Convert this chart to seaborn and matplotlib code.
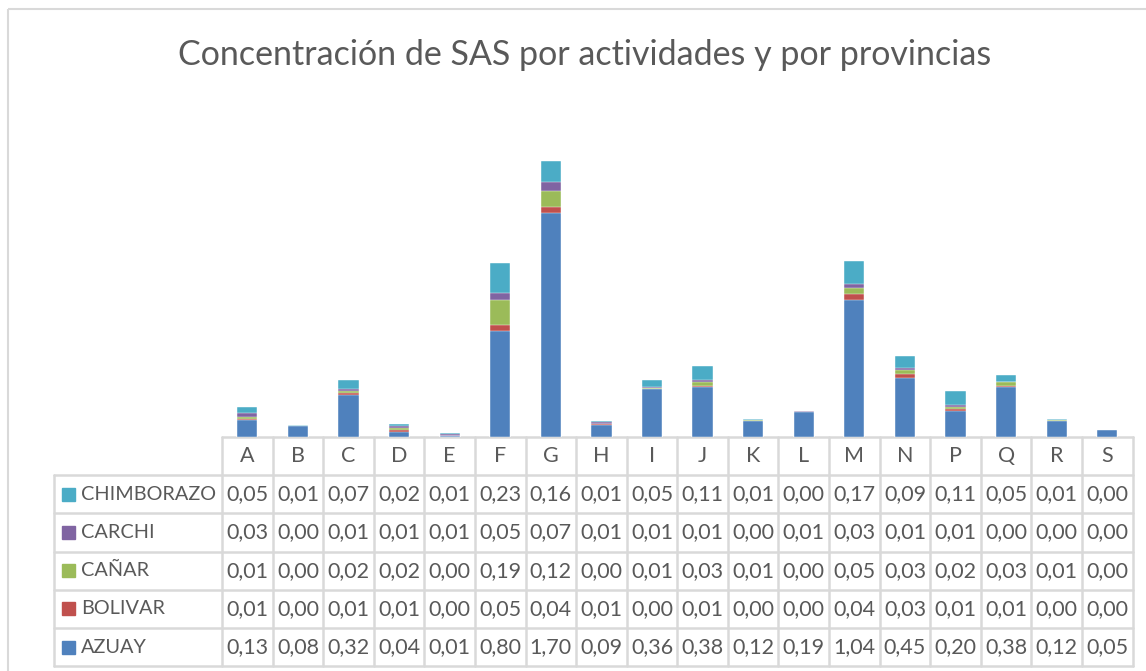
import matplotlib
matplotlib.use("Agg")
import matplotlib.pyplot as plt
import seaborn as sns
import numpy as np
import pandas as pd

categories = ["A", "B", "C", "D", "E", "F", "G", "H", "I", "J", "K", "L", "M", "N", "P", "Q", "R", "S"]
azuay = [0.13, 0.08, 0.32, 0.04, 0.01, 0.80, 1.70, 0.09, 0.36, 0.38, 0.12, 0.19, 1.04, 0.45, 0.20, 0.38, 0.12, 0.05]
bolivar = [0.01, 0.00, 0.01, 0.01, 0.00, 0.05, 0.04, 0.01, 0.00, 0.01, 0.00, 0.00, 0.04, 0.03, 0.01, 0.01, 0.00, 0.00]
canar = [0.01, 0.00, 0.02, 0.02, 0.00, 0.19, 0.12, 0.00, 0.01, 0.03, 0.01, 0.00, 0.05, 0.03, 0.02, 0.03, 0.01, 0.00]
carchi = [0.03, 0.00, 0.01, 0.01, 0.01, 0.05, 0.07, 0.01, 0.01, 0.01, 0.00, 0.01, 0.03, 0.01, 0.01, 0.00, 0.00, 0.00]
chimborazo = [0.05, 0.01, 0.07, 0.02, 0.01, 0.23, 0.16, 0.01, 0.05, 0.11, 0.01, 0.00, 0.17, 0.09, 0.11, 0.05, 0.01, 0.00]

series_names = ["AZUAY", "BOLIVAR", "CAÑAR", "CARCHI", "CHIMBORAZO"]
series_values = [azuay, bolivar, canar, carchi, chimborazo]
series_colors = ["#4F81BD", "#C0504D", "#9BBB59", "#8064A2", "#4BACC6"]

title = "Concentración de SAS por actividades y por provincias"

sns.set_style("white")
plt.rcParams["font.family"] = ["Lato", "DejaVu Sans"]

W, H = 1146, 671
fig = plt.figure(figsize=(W / 100, H / 100), dpi=100)

# overlay in pixel coordinates for border, title and data table
ov = fig.add_axes([0, 0, 1, 1])
ov.set_xlim(0, W)
ov.set_ylim(H, 0)
ov.axis("off")

grid_c = "#d9d9d9"
text_c = "#595959"
ov.add_patch(plt.Rectangle((8, 9), W, H, fill=False, edgecolor=grid_c, lw=1.5))
ov.text(585, 55, title, ha="center", va="center", fontsize=24.5, color=text_c)

# table geometry
x0, x1 = 222, 1132.6
xl = 54
col_w = (x1 - x0) / len(categories)
y_top = 437
row_h = 38.2

# horizontal lines
ov.plot([x0, x1], [y_top, y_top], color=grid_c, lw=1.8)
for r in range(1, 7):
    y = y_top + r * row_h
    ov.plot([xl, x1], [y, y], color=grid_c, lw=1.8)
# vertical lines
for c in range(len(categories) + 1):
    x = x0 + c * col_w
    ov.plot([x, x], [y_top, y_top + 6 * row_h], color=grid_c, lw=1.8)
ov.plot([xl, xl], [y_top + row_h, y_top + 6 * row_h], color=grid_c, lw=1.8)

for c, cat in enumerate(categories):
    ov.text(x0 + (c + 0.5) * col_w, y_top + 0.5 * row_h, cat, ha="center", va="center",
            fontsize=15.5, color=text_c)

rows = list(zip(series_names, series_values, series_colors))[::-1]
for r, (name, vals, col) in enumerate(rows):
    yc = y_top + (r + 1.5) * row_h
    ov.add_patch(plt.Rectangle((62, yc - 6.5), 13, 13, color=col))
    ov.text(81, yc, name, ha="left", va="center", fontsize=14.3, color=text_c)
    for c, v in enumerate(vals):
        ov.text(x0 + (c + 0.5) * col_w, yc, f"{v:.2f}".replace(".", ","), ha="center",
                va="center", fontsize=15.5, color=text_c)

# stacked bars
ax = fig.add_axes([x0 / W, (H - y_top) / H, (x1 - x0) / W, 336 / H])
ax.patch.set_alpha(0)
df = pd.DataFrame(dict(zip(series_names, series_values)), index=categories)
cum = df.cumsum(axis=1)
for name, col in zip(series_names[::-1], series_colors[::-1]):
    sns.barplot(x=categories, y=cum[name].values, color=col, width=0.4, ax=ax,
                saturation=1, edgecolor="white", linewidth=0.3)
ax.set_xlim(-0.5, len(categories) - 0.5)
ax.set_ylim(0, 336 / 132)
ax.set_xticks([])
ax.set_yticks([])
sns.despine(ax=ax, left=True, bottom=True)

fig.savefig("out.png", dpi=100)
